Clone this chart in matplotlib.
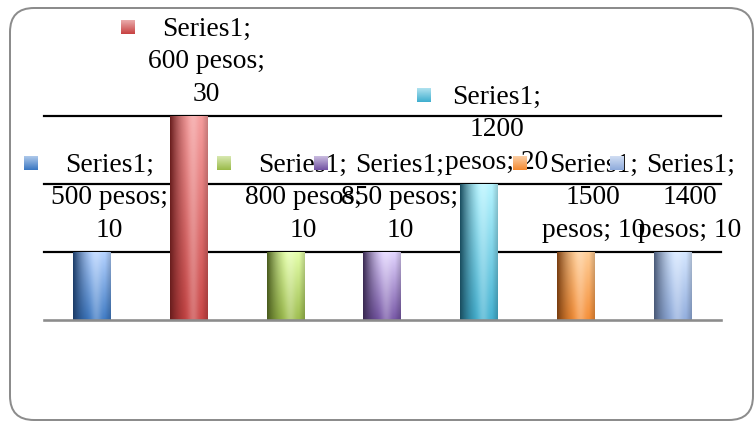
import numpy as np
import matplotlib
matplotlib.use("Agg")
import matplotlib.pyplot as plt
from matplotlib.patches import FancyBboxPatch
from matplotlib.transforms import IdentityTransform
from matplotlib.offsetbox import OffsetImage, AnnotationBbox

series_name = "Series1"
categories = ["500", "600", "800", "850", "1200", "1500", "1400"]
values = [10, 30, 10, 10, 20, 10, 10]
gridline_values = [10, 20, 30]

# per-bar colours: light top, saturated bottom, dark left shade
top_colors = ["#b4d2ff", "#f49a9a", "#e4ffa8", "#e2d4ff", "#b4f4ff", "#ffcc94", "#d4e6ff"]
bottom_colors = ["#3c78c2", "#c84444", "#9cbc4c", "#7454a4", "#42b0d0", "#f48c34", "#90acdc"]
shade_colors = ["#1c3c68", "#6a1e1e", "#4a5c1e", "#3a2a52", "#1a4e60", "#7a3e10", "#4a5a78"]

DPI = 72
W, H = 756, 421
fig = plt.figure(figsize=(W / DPI, H / DPI), dpi=DPI)

# plot area in pixels
left_px, right_px = 43.5, 721.0
base_px, top_px = 320.3, 116.3
ax = fig.add_axes([left_px / W, (H - base_px) / H,
                   (right_px - left_px) / W, (base_px - top_px) / H])
ax.set_axis_off()


def hex_rgb(c):
    c = c.lstrip("#")
    return np.array([int(c[k:k + 2], 16) / 255 for k in (0, 2, 4)])


def cylinder_fill(top, bottom, shade, nx=60, ny=120):
    t = np.linspace(0, 1, ny)[:, None, None]
    base = hex_rgb(top) * (1 - t) + hex_rgb(bottom) * t
    x = np.linspace(0, 1, nx)[None, :, None]
    w_dark = np.clip(1 - x / 0.55, 0, 1) ** 1.6
    col = base * (1 - w_dark) + hex_rgb(shade) * w_dark
    hi = 0.25 * np.exp(-((x - 0.62) / 0.14) ** 2)
    col = col * (1 - hi) + hi
    w_right = np.clip((x - 0.85) / 0.15, 0, 1) * 0.18
    col = col * (1 - w_right)
    return np.clip(col, 0, 1)


def key_fill(top, bottom, n=14):
    t = np.linspace(0, 1, n)[:, None, None]
    col = hex_rgb(top) * 0.35 + hex_rgb(bottom) * 0.65
    light = col * 0.55 + 0.45
    arr = light * (1 - t) + hex_rgb(bottom) * t
    return np.repeat(np.clip(arr, 0, 1), n, axis=1)


x = np.arange(len(categories))

# gridlines
for g in gridline_values:
    ax.axhline(g, color="black", lw=2.2, zorder=1, clip_on=False)
ax.axhline(0, color="#8c8c8c", lw=2.6, zorder=4, clip_on=False)

bars = ax.bar(x, values, width=0.39, color=bottom_colors, zorder=2)
for bar, tc, bc, sc in zip(bars, top_colors, bottom_colors, shade_colors):
    bx, bw, bh = bar.get_x(), bar.get_width(), bar.get_height()
    im = ax.imshow(cylinder_fill(tc, bc, sc), extent=(bx, bx + bw, 0, bh),
                   aspect="auto", interpolation="bilinear", zorder=3)
    im.set_clip_path(bar)


def label_text(cat, v):
    if len(cat) > 3:
        return f"{series_name};\n{cat}\npesos; {v}"
    return f"{series_name};\n{cat} pesos;\n{v}"


for i, (cat, v) in enumerate(zip(categories, values)):
    ax.annotate(label_text(cat, v), xy=(i, v), xytext=(17.5, 9.5),
                textcoords="offset points", ha="center", va="bottom",
                multialignment="center", fontsize=27.5,
                family="Liberation Serif", linespacing=1.39,
                annotation_clip=False, zorder=5)

# legend keys sit left of each label's widest line
for i, (cat, v) in enumerate(zip(categories, values)):
    dx = -55.5 if len(cat) > 3 else -61.0
    key = OffsetImage(key_fill(top_colors[i], bottom_colors[i]), zoom=1)
    ab = AnnotationBbox(key, (i, v), xybox=(dx, 89.3),
                        boxcoords="offset points", frameon=False, pad=0,
                        annotation_clip=False, zorder=6)
    ax.add_artist(ab)

ax.set_xlim(-0.5, len(categories) - 0.5)
ax.set_ylim(0, 30)

# rounded chart border
border = FancyBboxPatch((10, 1), 743, 412,
                        boxstyle="round,pad=0,rounding_size=24",
                        transform=IdentityTransform(), fill=False,
                        ec="#8c8c8c", lw=2)
fig.patches.append(border)

fig.savefig("out.png", dpi=DPI)
